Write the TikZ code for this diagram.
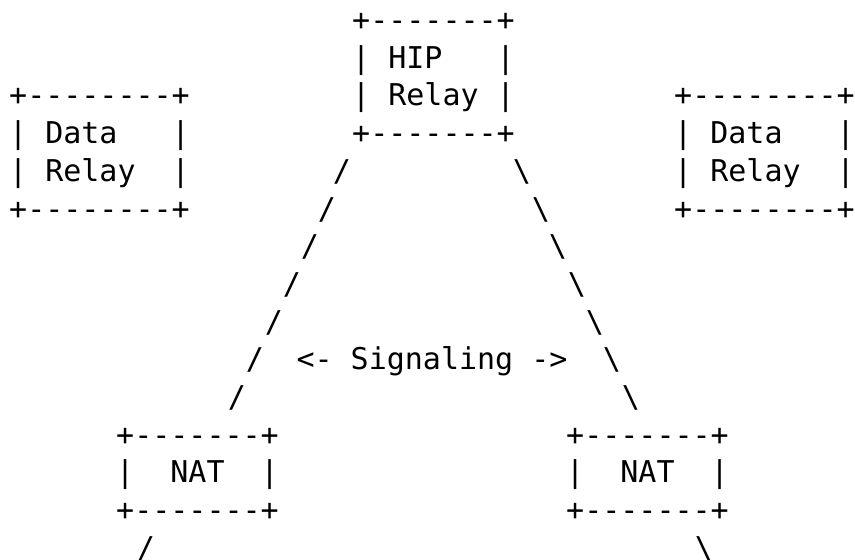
\documentclass[tikz,border=0pt]{standalone}
\usepackage{fontspec}
\setmonofont{DejaVu Sans Mono}
\usepackage{tikz}
\newcommand{\bsl}{\textbackslash}

\begin{document}
\begin{tikzpicture}[x=1pt,y=-37.7pt,
        asc/.style={font={\fontsize{30}{36}\selectfont\ttfamily},inner sep=0pt,
                    anchor=base west,yshift=-30.5pt},
        sl/.style={asc,anchor=base}]
  \useasboundingbox (0,0) rectangle (855,14.828);
  % HIP relay on top
  \node[asc] (hipa) at (352,0) {+-------+};
  \node[asc] (hipb) at (352,1) {|~HIP~~~|};
  \node[asc] (hipc) at (352,2) {|~Relay~|};
  \node[asc] (hipd) at (352,3) {+-------+};
  % data relays
  \node[asc] (dla) at (9,2) {+--------+};
  \node[asc] (dlb) at (9,3) {|~Data~~~|};
  \node[asc] (dlc) at (9,4) {|~Relay~~|};
  \node[asc] (dld) at (9,5) {+--------+};
  \node[asc] (dra) at (674,2) {+--------+};
  \node[asc] (drb) at (674,3) {|~Data~~~|};
  \node[asc] (drc) at (674,4) {|~Relay~~|};
  \node[asc] (drd) at (674,5) {+--------+};
  % signaling legs
  \node[sl] (l4) at (342,4) {/};   \node[sl] (r4) at (522,4) {\bsl};
  \node[sl] (l5) at (327,5) {/};   \node[sl] (r5) at (541,5) {\bsl};
  \node[sl] (l6) at (310,6) {/};   \node[sl] (r6) at (558,6) {\bsl};
  \node[sl] (l7) at (292,7) {/};   \node[sl] (r7) at (577,7) {\bsl};
  \node[sl] (l8) at (274,8) {/};   \node[sl] (r8) at (595,8) {\bsl};
  \node[sl] (l9) at (255,9) {/};   \node[sl] (r9) at (612,9) {\bsl};
  \node[sl] (l10) at (237,10) {/}; \node[sl] (r10) at (631,10) {\bsl};
  \node[sl] (sig) at (432,9) {<-~Signaling~->};
  % NATs
  \node[asc] (nla) at (116,11) {+-------+};
  \node[asc] (nlb) at (116,12) {|~~NAT~~|};
  \node[asc] (nlc) at (116,13) {+-------+};
  \node[asc] (nra) at (566,11) {+-------+};
  \node[asc] (nrb) at (566,12) {|~~NAT~~|};
  \node[asc] (nrc) at (566,13) {+-------+};
  \node[sl] (l14) at (146,14) {/}; \node[sl] (r14) at (704,14) {\bsl};
\end{tikzpicture}
\end{document}
